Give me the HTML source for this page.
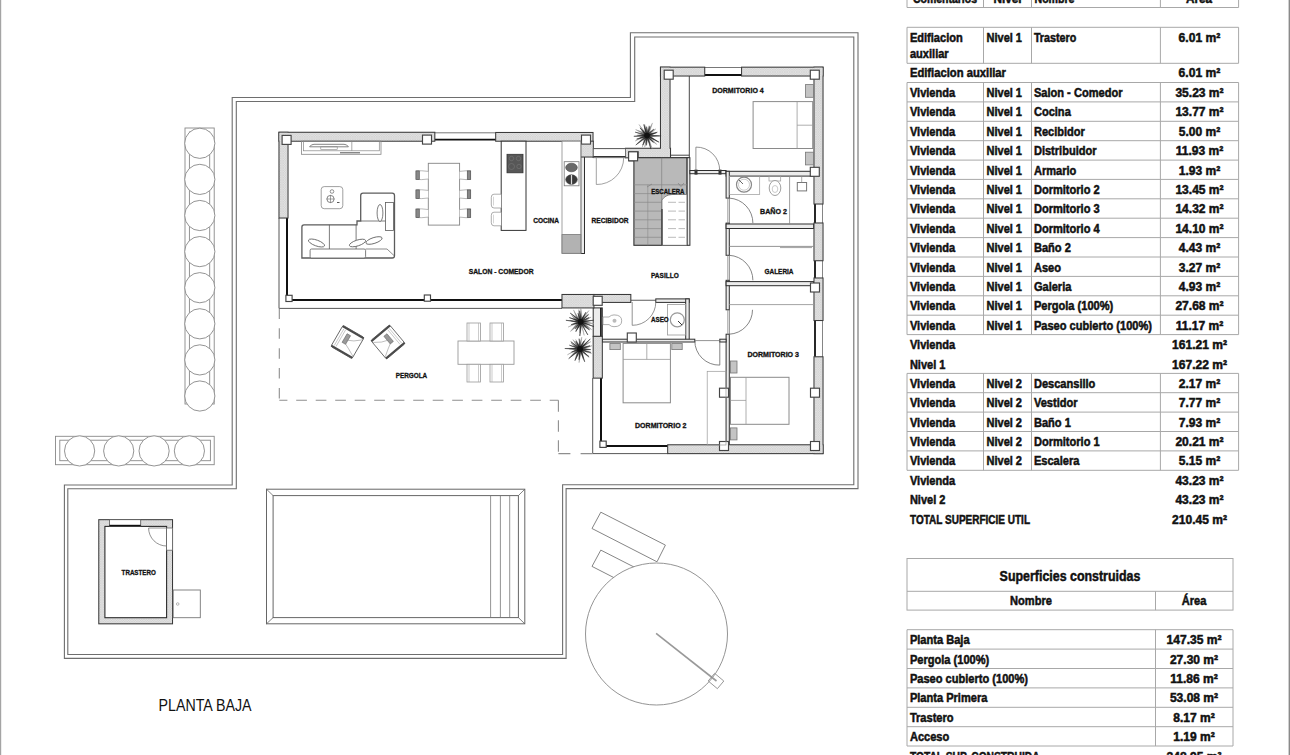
<!DOCTYPE html>
<html><head><meta charset="utf-8"><style>
html,body{margin:0;padding:0;background:#fff;width:1290px;height:755px;overflow:hidden}
svg{position:absolute;left:0;top:0;display:block}
text{font-family:"Liberation Sans",sans-serif}
</style></head><body>
<svg width="1290" height="755" viewBox="0 0 1290 755">
<defs><pattern id="hatch" width="2.4" height="2.4" patternUnits="userSpaceOnUse"><rect width="2.4" height="2.4" fill="#e2e2e2"/><path d="M0,0 L2.4,2.4 M2.4,0 L0,2.4" stroke="#cdcdcd" stroke-width="0.5"/></pattern></defs>
<path d="M232.2,97.5 H630.4 V32.7 H858 V488.6 H566.1 V658.4 H64.4 V485 H232.2 Z" fill="none" stroke="#6e6e6e" stroke-width="1.1"/>
<path d="M236.3,101.5 H634.7 V37 H853.8 V484.7 H562.6 V654.5 H67.8 V488.8 H236.3 Z" fill="none" stroke="#6e6e6e" stroke-width="1.1"/>
<rect x="185.0" y="128.0" width="29.2" height="276.0" fill="none" stroke="#888" stroke-width="0.9" />
<rect x="189.4" y="132.0" width="20.3" height="272.0" fill="none" stroke="#888" stroke-width="0.9" />
<circle cx="199.8" cy="143.3" r="15.1" fill="#fff" stroke="#888" stroke-width="0.9"/>
<circle cx="199.8" cy="179.4" r="15.1" fill="#fff" stroke="#888" stroke-width="0.9"/>
<circle cx="199.8" cy="215.5" r="15.1" fill="#fff" stroke="#888" stroke-width="0.9"/>
<circle cx="199.8" cy="251.6" r="15.1" fill="#fff" stroke="#888" stroke-width="0.9"/>
<circle cx="199.8" cy="287.7" r="15.1" fill="#fff" stroke="#888" stroke-width="0.9"/>
<circle cx="199.8" cy="323.8" r="15.1" fill="#fff" stroke="#888" stroke-width="0.9"/>
<circle cx="199.8" cy="359.9" r="15.1" fill="#fff" stroke="#888" stroke-width="0.9"/>
<circle cx="199.8" cy="396.0" r="15.1" fill="#fff" stroke="#888" stroke-width="0.9"/>
<rect x="55.5" y="436.3" width="158.7" height="28.4" fill="none" stroke="#888" stroke-width="0.9" />
<rect x="59.8" y="440.2" width="150.6" height="20.5" fill="none" stroke="#888" stroke-width="0.9" />
<circle cx="79.6" cy="450.9" r="15.1" fill="#fff" stroke="#888" stroke-width="0.9"/>
<circle cx="118.7" cy="450.9" r="15.1" fill="#fff" stroke="#888" stroke-width="0.9"/>
<circle cx="154.1" cy="450.9" r="15.1" fill="#fff" stroke="#888" stroke-width="0.9"/>
<circle cx="189.4" cy="450.9" r="15.1" fill="#fff" stroke="#888" stroke-width="0.9"/>
<line x1="434.8" y1="132.8" x2="495.7" y2="132.8" stroke="#555" stroke-width="0.8"/>
<line x1="434.8" y1="139.6" x2="495.7" y2="139.6" stroke="#111" stroke-width="1.8"/>
<line x1="279.0" y1="218.0" x2="279.0" y2="308.4" stroke="#444" stroke-width="0.9"/>
<line x1="287.0" y1="218.0" x2="287.0" y2="300.0" stroke="#111" stroke-width="2"/>
<line x1="287.0" y1="300.0" x2="562.0" y2="300.0" stroke="#111" stroke-width="2"/>
<line x1="279.0" y1="308.4" x2="562.0" y2="308.4" stroke="#444" stroke-width="0.9"/>
<rect x="580.8" y="150.0" width="3.7" height="103.5" fill="#ececec" stroke="#2e2e2e" stroke-width="1"/>
<line x1="670.0" y1="155.2" x2="689.3" y2="155.2" stroke="#333" stroke-width="0.9"/>
<line x1="670.0" y1="157.8" x2="689.9" y2="157.8" stroke="#333" stroke-width="1"/>
<line x1="704.7" y1="67.5" x2="741.6" y2="67.5" stroke="#555" stroke-width="0.8"/>
<line x1="704.7" y1="75.0" x2="741.6" y2="75.0" stroke="#111" stroke-width="1.8"/>
<line x1="815.0" y1="204.0" x2="815.0" y2="223.0" stroke="#111" stroke-width="1.8"/>
<line x1="822.5" y1="204.0" x2="822.5" y2="223.0" stroke="#666" stroke-width="0.8"/>
<line x1="815.0" y1="260.7" x2="815.0" y2="278.0" stroke="#111" stroke-width="1.8"/>
<line x1="822.5" y1="260.7" x2="822.5" y2="278.0" stroke="#666" stroke-width="0.8"/>
<line x1="815.0" y1="320.5" x2="815.0" y2="356.8" stroke="#111" stroke-width="1.8"/>
<line x1="822.5" y1="320.5" x2="822.5" y2="356.8" stroke="#666" stroke-width="0.8"/>
<line x1="689.3" y1="76.0" x2="689.3" y2="171.0" stroke="#333" stroke-width="0.9"/>
<rect x="686.9" y="157.7" width="3.0" height="87.6" fill="#ececec" stroke="#2e2e2e" stroke-width="1"/>
<rect x="689.9" y="170.5" width="36.2" height="3.2" fill="#ececec" stroke="#2e2e2e" stroke-width="1"/>
<rect x="694.5" y="169.6" width="3" height="5" fill="#333"/><rect x="718.5" y="169.6" width="3" height="5" fill="#333"/>
<rect x="726.1" y="171.3" width="87.6" height="4.8" fill="#ececec" stroke="#2e2e2e" stroke-width="1"/>
<rect x="726.1" y="171.3" width="3.2" height="26.8" fill="#ececec" stroke="#2e2e2e" stroke-width="1"/>
<rect x="726.1" y="223.1" width="3.2" height="32.2" fill="#ececec" stroke="#2e2e2e" stroke-width="1"/>
<rect x="726.1" y="280.3" width="3.2" height="29.5" fill="#ececec" stroke="#2e2e2e" stroke-width="1"/>
<rect x="726.1" y="334.2" width="3.2" height="110.8" fill="#ececec" stroke="#2e2e2e" stroke-width="1"/>
<line x1="727.7" y1="198.1" x2="727.7" y2="223.1" stroke="#888" stroke-width="0.7"/>
<line x1="727.7" y1="255.3" x2="727.7" y2="280.3" stroke="#888" stroke-width="0.7"/>
<line x1="727.7" y1="309.8" x2="727.7" y2="334.2" stroke="#888" stroke-width="0.7"/>
<rect x="726.1" y="224.0" width="87.6" height="4.5" fill="#ececec" stroke="#2e2e2e" stroke-width="1"/>
<rect x="726.1" y="281.6" width="87.6" height="4.1" fill="#ececec" stroke="#2e2e2e" stroke-width="1"/>
<line x1="601.0" y1="446.0" x2="667.7" y2="446.0" stroke="#111" stroke-width="2"/>
<line x1="592.7" y1="453.6" x2="667.7" y2="453.6" stroke="#444" stroke-width="0.9"/>
<rect x="593.2" y="307.9" width="9.1" height="28.5" fill="#ececec" stroke="#2e2e2e" stroke-width="1"/>
<line x1="600.9" y1="307.9" x2="600.9" y2="336.4" stroke="#111" stroke-width="1.6"/>
<line x1="601.0" y1="378.1" x2="601.0" y2="446.0" stroke="#111" stroke-width="2"/>
<line x1="592.7" y1="378.1" x2="592.7" y2="453.6" stroke="#444" stroke-width="0.9"/>
<line x1="630.8" y1="300.3" x2="655.8" y2="300.3" stroke="#777" stroke-width="1.2"/>
<rect x="655.8" y="298.9" width="33.4" height="3.5" fill="#ececec" stroke="#2e2e2e" stroke-width="1"/>
<rect x="685.7" y="298.9" width="3.5" height="42.4" fill="#ececec" stroke="#2e2e2e" stroke-width="1"/>
<rect x="602.3" y="339.2" width="92.5" height="2.8" fill="#ececec" stroke="#2e2e2e" stroke-width="1"/>
<rect x="719.8" y="339.2" width="6.3" height="2.8" fill="#ececec" stroke="#2e2e2e" stroke-width="1"/>
<line x1="694.8" y1="340.6" x2="719.8" y2="340.6" stroke="#777" stroke-width="0.8"/>
<g fill="#dcdcdc" stroke="#3a3a3a" stroke-width="2.1"><rect x="279.5" y="132.8" width="154.8" height="7.9"/><rect x="496.2" y="133.0" width="96.3" height="7.7"/><rect x="279.5" y="132.8" width="8.0" height="84.7"/><rect x="581.3" y="141.7" width="11.5" height="14.8"/><rect x="593.5" y="149.2" width="40.0" height="7.3"/><rect x="626.0" y="148.8" width="44.0" height="8.5"/><rect x="661.0" y="67.7" width="8.5" height="89.6"/><rect x="661.0" y="67.7" width="43.2" height="7.8"/><rect x="742.1" y="67.7" width="80.4" height="7.8"/><rect x="814.5" y="67.7" width="8.0" height="135.8"/><rect x="814.5" y="223.5" width="8.0" height="36.7"/><rect x="814.5" y="278.5" width="8.0" height="41.5"/><rect x="814.5" y="357.3" width="8.0" height="95.8"/><rect x="668.2" y="445.3" width="154.3" height="7.8"/><rect x="593.7" y="336.9" width="8.1" height="40.7"/><rect x="562.5" y="295.0" width="30.9" height="12.4"/><rect x="594.4" y="295.0" width="35.9" height="6.9"/></g><g fill="url(#hatch)" stroke="none"><rect x="279.5" y="132.8" width="154.8" height="7.9"/><rect x="496.2" y="133.0" width="96.3" height="7.7"/><rect x="279.5" y="132.8" width="8.0" height="84.7"/><rect x="581.3" y="141.7" width="11.5" height="14.8"/><rect x="593.5" y="149.2" width="40.0" height="7.3"/><rect x="626.0" y="148.8" width="44.0" height="8.5"/><rect x="661.0" y="67.7" width="8.5" height="89.6"/><rect x="661.0" y="67.7" width="43.2" height="7.8"/><rect x="742.1" y="67.7" width="80.4" height="7.8"/><rect x="814.5" y="67.7" width="8.0" height="135.8"/><rect x="814.5" y="223.5" width="8.0" height="36.7"/><rect x="814.5" y="278.5" width="8.0" height="41.5"/><rect x="814.5" y="357.3" width="8.0" height="95.8"/><rect x="668.2" y="445.3" width="154.3" height="7.8"/><rect x="593.7" y="336.9" width="8.1" height="40.7"/><rect x="562.5" y="295.0" width="30.9" height="12.4"/><rect x="594.4" y="295.0" width="35.9" height="6.9"/></g>
<rect x="285.9" y="295.3" width="6.2" height="6.2" fill="#fff" stroke="#444" stroke-width="1.15"/>
<rect x="424.3" y="295.0" width="6.2" height="6.2" fill="#fff" stroke="#444" stroke-width="1.15"/>
<rect x="599.9" y="441.1" width="6.3" height="6.3" fill="#fff" stroke="#444" stroke-width="1.15"/>
<rect x="282.1" y="135.4" width="9" height="9" fill="#fff" stroke="#444" stroke-width="1.15"/>
<rect x="422.5" y="135.1" width="9" height="9" fill="#fff" stroke="#444" stroke-width="1.15"/>
<rect x="581.5" y="135.1" width="9" height="9" fill="#fff" stroke="#444" stroke-width="1.15"/>
<rect x="629.2" y="151.8" width="9" height="9" fill="#fff" stroke="#444" stroke-width="1.15"/>
<rect x="664.2" y="70.2" width="9" height="9" fill="#fff" stroke="#444" stroke-width="1.15"/>
<rect x="810.3" y="70.2" width="9" height="9" fill="#fff" stroke="#444" stroke-width="1.15"/>
<rect x="810.3" y="167.3" width="9" height="9" fill="#fff" stroke="#444" stroke-width="1.15"/>
<rect x="810.5" y="283.0" width="9" height="9" fill="#fff" stroke="#444" stroke-width="1.15"/>
<rect x="719.5" y="388.2" width="9" height="9" fill="#fff" stroke="#444" stroke-width="1.15"/>
<rect x="810.5" y="388.2" width="9" height="9" fill="#fff" stroke="#444" stroke-width="1.15"/>
<rect x="719.5" y="441.5" width="9" height="9" fill="#fff" stroke="#444" stroke-width="1.15"/>
<rect x="810.5" y="441.5" width="9" height="9" fill="#fff" stroke="#444" stroke-width="1.15"/>
<rect x="593.2" y="296.3" width="9" height="9" fill="#fff" stroke="#444" stroke-width="1.15"/>
<rect x="627.3" y="333.0" width="9" height="9" fill="#fff" stroke="#444" stroke-width="1.15"/>
<path d="M279.3,308.4 V400.3" fill="none" stroke="#8e8e8e" stroke-width="1.1" stroke-dasharray="10.5 9.4"/>
<path d="M279.3,400.3 H558.4" fill="none" stroke="#8e8e8e" stroke-width="1.1" stroke-dasharray="10.7 8.8" stroke-dashoffset="2.6"/>
<path d="M558.4,400.3 V453.6" fill="none" stroke="#8e8e8e" stroke-width="1.1" stroke-dasharray="11.5 8.5"/>
<path d="M558.4,453.6 H593" fill="none" stroke="#8e8e8e" stroke-width="1.1" stroke-dasharray="12 10.2"/>
<g fill="#dcdcdc" stroke="#3a3a3a" stroke-width="2.1"><rect x="99.3" y="520.2" width="72.7" height="103.1"/></g><g fill="url(#hatch)" stroke="none"><rect x="99.3" y="520.2" width="72.7" height="103.1"/></g>
<rect x="104.9" y="526.4" width="61.7" height="91.3" fill="#fff" stroke="#2b2b2b" stroke-width="1.1"/>
<rect x="173.2" y="590.0" width="27.1" height="27.7" fill="#fff" stroke="#777" stroke-width="0.9" />
<rect x="266.5" y="489.2" width="258.3" height="134.6" fill="none" stroke="#666" stroke-width="1" />
<rect x="273.1" y="495.6" width="245.3" height="122.0" fill="none" stroke="#666" stroke-width="1" />
<line x1="266.5" y1="489.2" x2="273.1" y2="495.6" stroke="#666" stroke-width="0.8"/>
<line x1="524.8" y1="489.2" x2="518.4" y2="495.6" stroke="#666" stroke-width="0.8"/>
<line x1="266.5" y1="623.8" x2="273.1" y2="617.6" stroke="#666" stroke-width="0.8"/>
<line x1="524.8" y1="623.8" x2="518.4" y2="617.6" stroke="#666" stroke-width="0.8"/>
<line x1="490.6" y1="495.6" x2="490.6" y2="617.6" stroke="#777" stroke-width="0.8"/>
<line x1="500.4" y1="495.6" x2="500.4" y2="617.6" stroke="#777" stroke-width="0.8"/>
<line x1="509.7" y1="495.6" x2="509.7" y2="617.6" stroke="#777" stroke-width="0.8"/>
<polygon points="600.8,512.2 665.4,545.1 657,561.8 592,528.5" fill="#fff" stroke="#777" stroke-width="0.9"/>
<polygon points="600.8,550.1 665.4,583 657,599.7 592,566.4" fill="#fff" stroke="#777" stroke-width="0.9"/>
<circle cx="656.5" cy="634" r="71" fill="#fff" stroke="#888" stroke-width="0.9"/>
<line x1="656.1" y1="633.4" x2="716.5" y2="681.0" stroke="#999" stroke-width="1.6"/>
<rect x="710" y="676" width="12" height="10" fill="none" stroke="#888" stroke-width="0.8" transform="rotate(40 716 681)"/>
<rect x="301.5" y="141.2" width="79.5" height="13.1" fill="none" stroke="#858585" stroke-width="0.8" />
<rect x="303.6" y="141.2" width="75.7" height="9.6" fill="none" stroke="#858585" stroke-width="0.7" />
<line x1="351.8" y1="141.2" x2="351.8" y2="150.8" stroke="#858585" stroke-width="0.7"/>
<path d="M309.6,146.8 Q311,144.3 314,144.3 H344 Q347,144.3 348.4,146.8 Z" fill="#fff" stroke="#666" stroke-width="0.8"/>
<rect x="320.8" y="146.8" width="16.4" height="2.5" fill="none" stroke="#858585" stroke-width="0.6" />
<line x1="340.0" y1="152.8" x2="360.0" y2="152.8" stroke="#555" stroke-width="1"/>
<rect x="321.2" y="186.6" width="21.6" height="22.1" rx="3" fill="#fff" stroke="#888" stroke-width="0.8"/>
<circle cx="330.5" cy="199" r="3.6" fill="none" stroke="#666" stroke-width="0.8"/>
<circle cx="332" cy="191.5" r="1.8" fill="none" stroke="#666" stroke-width="0.7"/>
<line x1="330.5" y1="195.0" x2="330.5" y2="203.0" stroke="#666" stroke-width="0.6"/>
<line x1="326.5" y1="199.0" x2="334.5" y2="199.0" stroke="#666" stroke-width="0.6"/>
<line x1="337.0" y1="202.5" x2="339.5" y2="202.5" stroke="#444" stroke-width="0.9"/>
<path d="M301.9,258 V227 Q301.9,224.8 304,224.8 H357 V221 H360.7 V195.5 Q360.7,193.2 363,193.2 H392.2 Q394.5,193.2 394.5,195.5 V255.7 Q394.5,258 392.2,258 Z" fill="#fff" stroke="#5c5c5c" stroke-width="1.3"/>
<line x1="360.7" y1="221.0" x2="385.4" y2="221.0" stroke="#5c5c5c" stroke-width="0.8"/>
<line x1="329.4" y1="224.8" x2="329.4" y2="249.0" stroke="#5c5c5c" stroke-width="0.8"/>
<line x1="356.1" y1="224.8" x2="356.1" y2="249.0" stroke="#5c5c5c" stroke-width="0.8"/>
<rect x="385.4" y="202.5" width="8.1" height="28.0" fill="none" stroke="#5c5c5c" stroke-width="0.8" />
<rect x="310.1" y="249" width="55.5" height="9" rx="1.5" fill="#fff" stroke="#5c5c5c" stroke-width="0.8"/>
<line x1="365.6" y1="249.0" x2="387.0" y2="249.0" stroke="#5c5c5c" stroke-width="0.7"/>
<line x1="387.0" y1="249.0" x2="394.5" y2="256.0" stroke="#5c5c5c" stroke-width="0.7"/>
<ellipse cx="316.5" cy="243" rx="8.5" ry="2.9" transform="rotate(20 316.5 243)" fill="#fff" stroke="#5c5c5c" stroke-width="0.8"/>
<ellipse cx="357.5" cy="243" rx="8.5" ry="2.9" transform="rotate(-18 357.5 243)" fill="#fff" stroke="#5c5c5c" stroke-width="0.8"/>
<ellipse cx="374" cy="240.5" rx="8.5" ry="2.9" transform="rotate(-18 374 240.5)" fill="#fff" stroke="#5c5c5c" stroke-width="0.8"/>
<ellipse cx="380" cy="213" rx="2.9" ry="8.5" transform="rotate(0 380 213)" fill="#fff" stroke="#5c5c5c" stroke-width="0.8"/>
<rect x="428.3" y="163.3" width="31.3" height="61.8" fill="#fff" stroke="#858585" stroke-width="0.9" />
<path d="M428.3,171.4 Q421,170.4 416.5,170.9 V179.4 Q421,180.0 428.3,179.0" fill="#fff" stroke="#999" stroke-width="0.7"/>
<rect x="415.9" y="170.9" width="3.4" height="8.5" fill="#888" stroke="#555" stroke-width="0.7" />
<path d="M459.6,171.4 Q467,170.4 470.4,170.9 V179.4 Q467,180.0 459.6,179.0" fill="#fff" stroke="#999" stroke-width="0.7"/>
<rect x="467.3" y="170.9" width="3.4" height="8.5" fill="#888" stroke="#555" stroke-width="0.7" />
<path d="M428.3,190.4 Q421,189.4 416.5,189.9 V198.4 Q421,199.0 428.3,198.0" fill="#fff" stroke="#999" stroke-width="0.7"/>
<rect x="415.9" y="189.9" width="3.4" height="8.5" fill="#888" stroke="#555" stroke-width="0.7" />
<path d="M459.6,190.4 Q467,189.4 470.4,189.9 V198.4 Q467,199.0 459.6,198.0" fill="#fff" stroke="#999" stroke-width="0.7"/>
<rect x="467.3" y="189.9" width="3.4" height="8.5" fill="#888" stroke="#555" stroke-width="0.7" />
<path d="M428.3,209.5 Q421,208.5 416.5,209.0 V217.5 Q421,218.1 428.3,217.1" fill="#fff" stroke="#999" stroke-width="0.7"/>
<rect x="415.9" y="209.0" width="3.4" height="8.5" fill="#888" stroke="#555" stroke-width="0.7" />
<path d="M459.6,209.5 Q467,208.5 470.4,209.0 V217.5 Q467,218.1 459.6,217.1" fill="#fff" stroke="#999" stroke-width="0.7"/>
<rect x="467.3" y="209.0" width="3.4" height="8.5" fill="#888" stroke="#555" stroke-width="0.7" />
<rect x="501.2" y="141.2" width="24.8" height="89.2" fill="#fff" stroke="#333" stroke-width="1" />
<rect x="507.0" y="154.3" width="16.0" height="18.5" fill="#575757" stroke="#333" stroke-width="0.8" />
<circle cx="511.5" cy="158.5" r="2.2" fill="none" stroke="#777" stroke-width="0.6"/>
<circle cx="518.5" cy="158.5" r="2.2" fill="none" stroke="#777" stroke-width="0.6"/>
<circle cx="511.5" cy="166.5" r="3" fill="none" stroke="#777" stroke-width="0.6"/>
<circle cx="519" cy="166.5" r="2.2" fill="none" stroke="#777" stroke-width="0.6"/>
<path d="M501.2,194.2 H494 Q491.3,194.2 491.3,197.2 V205.0 Q491.3,208.0 494,208.0 H501.2" fill="#fff" stroke="#999" stroke-width="0.8"/>
<line x1="493.5" y1="196.7" x2="493.5" y2="205.5" stroke="#bbb" stroke-width="0.6"/>
<path d="M501.2,212.2 H494 Q491.3,212.2 491.3,215.2 V222.8 Q491.3,225.8 494,225.8 H501.2" fill="#fff" stroke="#999" stroke-width="0.8"/>
<line x1="493.5" y1="214.7" x2="493.5" y2="223.3" stroke="#bbb" stroke-width="0.6"/>
<rect x="562.0" y="141.2" width="18.8" height="112.1" fill="#fff" stroke="#8a8a8a" stroke-width="0.8" />
<rect x="564.2" y="161.7" width="14.8" height="24.1" fill="none" stroke="#777" stroke-width="0.8" />
<ellipse cx="571.5" cy="167.5" rx="5.8" ry="4.3" fill="#6a6a6a" stroke="#444" stroke-width="0.6"/>
<ellipse cx="571.5" cy="179.6" rx="5.8" ry="4.8" fill="#3a3a3a" stroke="#444" stroke-width="0.6"/>
<line x1="571.5" y1="175.0" x2="571.5" y2="184.4" stroke="#ddd" stroke-width="1.2"/>
<rect x="562.0" y="234.6" width="18.8" height="18.7" fill="#b2b2b2" stroke="#777" stroke-width="0.8" />
<rect x="593.3" y="148.7" width="32.2" height="9.0" fill="#fff" stroke="#555" stroke-width="0.8" />
<line x1="593.3" y1="156.5" x2="625.5" y2="156.5" stroke="#333" stroke-width="1.2"/>
<path d="M596.3,157.7 L596.3,184.5 A26.8,26.8 0 0 0 623.7,157.7" fill="none" stroke="#8a8a8a" stroke-width="0.8"/>
<rect x="633.9" y="157.7" width="53.0" height="87.6" fill="#b9b9b9" stroke="#333" stroke-width="1.1" />
<line x1="661.7" y1="157.7" x2="661.7" y2="245.3" stroke="#777" stroke-width="0.6"/>
<line x1="633.9" y1="184.8" x2="686.9" y2="184.8" stroke="#8a8a8a" stroke-width="0.7"/>
<line x1="633.9" y1="193.6" x2="661.7" y2="193.6" stroke="#8a8a8a" stroke-width="0.7"/>
<line x1="633.9" y1="202.3" x2="661.7" y2="202.3" stroke="#8a8a8a" stroke-width="0.7"/>
<line x1="633.9" y1="211.1" x2="661.7" y2="211.1" stroke="#8a8a8a" stroke-width="0.7"/>
<line x1="633.9" y1="219.8" x2="661.7" y2="219.8" stroke="#8a8a8a" stroke-width="0.7"/>
<line x1="633.9" y1="228.6" x2="661.7" y2="228.6" stroke="#8a8a8a" stroke-width="0.7"/>
<line x1="633.9" y1="237.3" x2="661.7" y2="237.3" stroke="#8a8a8a" stroke-width="0.7"/>
<line x1="647.8" y1="184.8" x2="647.8" y2="245.3" stroke="#8a8a8a" stroke-width="0.6"/>
<path d="M662,245.3 V200 Q665,195 672,194.5 H686.9 V245.3 Z" fill="#fff" stroke="#666" stroke-width="0.7"/>
<line x1="668.0" y1="202.3" x2="676.0" y2="202.3" stroke="#aaa" stroke-width="0.8"/>
<line x1="678.5" y1="202.3" x2="685.0" y2="202.3" stroke="#aaa" stroke-width="0.8"/>
<line x1="668.0" y1="211.1" x2="676.0" y2="211.1" stroke="#aaa" stroke-width="0.8"/>
<line x1="678.5" y1="211.1" x2="685.0" y2="211.1" stroke="#aaa" stroke-width="0.8"/>
<line x1="668.0" y1="219.8" x2="676.0" y2="219.8" stroke="#aaa" stroke-width="0.8"/>
<line x1="678.5" y1="219.8" x2="685.0" y2="219.8" stroke="#aaa" stroke-width="0.8"/>
<line x1="668.0" y1="228.6" x2="676.0" y2="228.6" stroke="#aaa" stroke-width="0.8"/>
<line x1="678.5" y1="228.6" x2="685.0" y2="228.6" stroke="#aaa" stroke-width="0.8"/>
<line x1="668.0" y1="237.3" x2="676.0" y2="237.3" stroke="#aaa" stroke-width="0.8"/>
<line x1="678.5" y1="237.3" x2="685.0" y2="237.3" stroke="#aaa" stroke-width="0.8"/>
<line x1="662.0" y1="209.0" x2="662.0" y2="245.0" stroke="#333" stroke-width="1.2"/>
<path d="M647,187 L652,184 M678,183 L681,186.5 L684,183" fill="none" stroke="#777" stroke-width="0.6"/>
<rect x="753.1" y="101.6" width="59.6" height="46.9" fill="#fff" stroke="#8a8a8a" stroke-width="1" />
<line x1="797.1" y1="101.6" x2="797.1" y2="148.5" stroke="#999" stroke-width="0.8"/>
<line x1="797.1" y1="125.2" x2="812.7" y2="125.2" stroke="#999" stroke-width="0.8"/>
<rect x="805.5" y="84.6" width="8.0" height="12.7" fill="#c4c4c4" stroke="#777" stroke-width="0.8" />
<rect x="805.5" y="152.2" width="8.0" height="12.7" fill="#c4c4c4" stroke="#777" stroke-width="0.8" />
<path d="M695.9,170.4 L695.9,147.1 A23.3,23.3 0 0 1 719.7,170.4" fill="none" stroke="#777" stroke-width="0.8"/>
<rect x="729.3" y="176.1" width="30.4" height="18.4" fill="none" stroke="#999" stroke-width="0.7" />
<circle cx="744" cy="184.7" r="7.5" fill="none" stroke="#888" stroke-width="1.2"/>
<circle cx="744" cy="184.7" r="5.5" fill="none" stroke="#aaa" stroke-width="0.6"/>
<line x1="739.0" y1="180.0" x2="743.0" y2="184.0" stroke="#555" stroke-width="0.9"/>
<rect x="769.0" y="176.1" width="11.7" height="4.9" fill="none" stroke="#999" stroke-width="0.7" />
<ellipse cx="775" cy="188" rx="5.8" ry="7.5" fill="#fff" stroke="#888" stroke-width="0.8"/>
<ellipse cx="775" cy="189" rx="2.8" ry="3.5" fill="none" stroke="#aaa" stroke-width="0.6"/>
<line x1="789.6" y1="176.1" x2="789.6" y2="224.5" stroke="#888" stroke-width="0.8"/>
<rect x="797.3" y="182.5" width="9.3" height="8.4" fill="none" stroke="#777" stroke-width="1" />
<line x1="801.7" y1="176.1" x2="801.7" y2="182.5" stroke="#888" stroke-width="0.7"/>
<path d="M729.3,223.1 L729.3,198.1 A25.0,25.0 0 0 1 752.9,223.1" fill="none" stroke="#666" stroke-width="0.8"/>
<line x1="729.3" y1="246.4" x2="813.7" y2="246.4" stroke="#888" stroke-width="0.9"/>
<line x1="780.0" y1="247.5" x2="812.0" y2="247.5" stroke="#aaa" stroke-width="1.2"/>
<path d="M729.3,280.3 L729.3,255.3 A25.0,25.0 0 0 1 752.9,280.3" fill="none" stroke="#666" stroke-width="0.8"/>
<line x1="729.3" y1="304.6" x2="814.0" y2="304.6" stroke="#999" stroke-width="0.9"/>
<path d="M729.3,309.8 L729.3,334.2 A24.4,24.4 0 0 0 752.5,309.8" fill="none" stroke="#666" stroke-width="0.8"/>
<rect x="730.5" y="377.3" width="58.5" height="47.0" fill="#fff" stroke="#8a8a8a" stroke-width="1" />
<line x1="746.0" y1="377.3" x2="746.0" y2="424.3" stroke="#999" stroke-width="0.8"/>
<line x1="730.5" y1="400.4" x2="746.0" y2="400.4" stroke="#999" stroke-width="0.8"/>
<rect x="730.5" y="361.0" width="6.5" height="12.0" fill="#c4c4c4" stroke="#777" stroke-width="0.8" />
<rect x="730.5" y="427.9" width="6.5" height="12.0" fill="#c4c4c4" stroke="#777" stroke-width="0.8" />
<rect x="623.1" y="343.4" width="47.3" height="59.4" fill="#fff" stroke="#8a8a8a" stroke-width="1" />
<line x1="623.1" y1="359.4" x2="670.4" y2="359.4" stroke="#999" stroke-width="0.8"/>
<line x1="646.8" y1="343.4" x2="646.8" y2="359.4" stroke="#999" stroke-width="0.8"/>
<rect x="609.9" y="343.4" width="10.4" height="6.2" fill="#c4c4c4" stroke="#777" stroke-width="0.8" />
<rect x="671.8" y="343.4" width="10.4" height="6.2" fill="#c4c4c4" stroke="#777" stroke-width="0.8" />
<rect x="707.2" y="371.3" width="18.8" height="73.7" fill="none" stroke="#999" stroke-width="0.7" />
<path d="M719.8,340.8 L719.8,365.1 A24.3,24.3 0 0 1 694.8,340.8" fill="none" stroke="#666" stroke-width="0.8"/>
<path d="M603,317 H609 Q611,314.9 614,314.9 Q621.7,314.9 621.7,320.8 Q621.7,326.7 614,326.7 Q611,326.7 609,324.6 H603 Z" fill="#fff" stroke="#999" stroke-width="0.8"/>
<circle cx="614.5" cy="320.8" r="2" fill="#bbb"/>
<path d="M632.2,302.0 L632.2,325.3 A23.3,23.3 0 0 0 655.8,302.0" fill="none" stroke="#777" stroke-width="0.8"/>
<rect x="667.6" y="304.5" width="18.1" height="30.5" fill="none" stroke="#999" stroke-width="0.8" />
<circle cx="677.3" cy="319.8" r="7" fill="none" stroke="#999" stroke-width="1.2"/>
<line x1="678.0" y1="321.0" x2="682.0" y2="325.0" stroke="#333" stroke-width="1"/>
<path d="M166.6,528.0 L148.6,528.0 A18.0,18.0 0 0 0 166.6,546.0" fill="none" stroke="#777" stroke-width="0.8"/>
<rect x="166.6" y="528.0" width="5.9" height="22.2" fill="#fff" stroke="#666" stroke-width="0.8" />
<rect x="109.4" y="519.7" width="31.3" height="6.7" fill="#fff" stroke="#555" stroke-width="0.8" />
<line x1="109.4" y1="525.6" x2="140.7" y2="525.6" stroke="#111" stroke-width="1.6"/>
<circle cx="177.7" cy="604" r="1.3" fill="none" stroke="#888" stroke-width="0.6"/>
<g transform="translate(347.5 342) rotate(30) scale(1,1)"><rect x="-12.2" y="-12.2" width="24.4" height="24.4" rx="1.5" fill="#fff" stroke="#555" stroke-width="0.8"/><rect x="-12.2" y="-12.2" width="24.4" height="2" fill="#4a4a4a"/><rect x="-12.2" y="10.2" width="24.4" height="2" fill="#4a4a4a"/><line x1="-9.7" y1="-9.6" x2="-9.7" y2="9.6" stroke="#aaa" stroke-width="0.6"/><line x1="-7.699999999999999" y1="-9.6" x2="-7.699999999999999" y2="9.6" stroke="#aaa" stroke-width="0.6"/><rect x="-4.5" y="-7" width="4" height="10" fill="#9a9a9a" stroke="#555" stroke-width="0.5"/><path d="M-2,-1 Q5,-3 12.2,-9.6 M-2,2 Q4,5 11.7,9.6" fill="none" stroke="#888" stroke-width="0.5"/></g>
<g transform="translate(388 342) rotate(-40) scale(-1,1)"><rect x="-12.2" y="-12.2" width="24.4" height="24.4" rx="1.5" fill="#fff" stroke="#555" stroke-width="0.8"/><rect x="-12.2" y="-12.2" width="24.4" height="2" fill="#4a4a4a"/><rect x="-12.2" y="10.2" width="24.4" height="2" fill="#4a4a4a"/><line x1="-9.7" y1="-9.6" x2="-9.7" y2="9.6" stroke="#aaa" stroke-width="0.6"/><line x1="-7.699999999999999" y1="-9.6" x2="-7.699999999999999" y2="9.6" stroke="#aaa" stroke-width="0.6"/><rect x="-4.5" y="-7" width="4" height="10" fill="#9a9a9a" stroke="#555" stroke-width="0.5"/><path d="M-2,-1 Q5,-3 12.2,-9.6 M-2,2 Q4,5 11.7,9.6" fill="none" stroke="#888" stroke-width="0.5"/></g>
<rect x="458.0" y="341.0" width="56.0" height="23.3" fill="#fff" stroke="#999" stroke-width="0.9" />
<rect x="467.0" y="323.0" width="13.5" height="18.0" fill="#fff" stroke="#999" stroke-width="0.8" />
<line x1="469.0" y1="323.0" x2="469.0" y2="341.0" stroke="#aaa" stroke-width="0.6"/>
<line x1="478.5" y1="323.0" x2="478.5" y2="341.0" stroke="#aaa" stroke-width="0.6"/>
<rect x="467.0" y="364.3" width="13.5" height="17.7" fill="#fff" stroke="#999" stroke-width="0.8" />
<line x1="469.0" y1="364.3" x2="469.0" y2="382.0" stroke="#aaa" stroke-width="0.6"/>
<line x1="478.5" y1="364.3" x2="478.5" y2="382.0" stroke="#aaa" stroke-width="0.6"/>
<rect x="490.0" y="323.0" width="13.5" height="18.0" fill="#fff" stroke="#999" stroke-width="0.8" />
<line x1="492.0" y1="323.0" x2="492.0" y2="341.0" stroke="#aaa" stroke-width="0.6"/>
<line x1="501.5" y1="323.0" x2="501.5" y2="341.0" stroke="#aaa" stroke-width="0.6"/>
<rect x="490.0" y="364.3" width="13.5" height="17.7" fill="#fff" stroke="#999" stroke-width="0.8" />
<line x1="492.0" y1="364.3" x2="492.0" y2="382.0" stroke="#aaa" stroke-width="0.6"/>
<line x1="501.5" y1="364.3" x2="501.5" y2="382.0" stroke="#aaa" stroke-width="0.6"/>
<rect x="628.6" y="151.8" width="9" height="9" fill="#fff" stroke="#444" stroke-width="1.15"/>
<polygon points="659.1,135.8 651.1,136.7 657.8,141.8 650.6,137.8 656.9,144.6 649.2,139.2 652.1,148.6 647.4,139.8 644.7,147.2 645.6,139.6 642.3,147.1 644.0,138.5 637.0,143.7 643.2,137.4 635.2,141.0 642.8,135.9 637.1,135.2 643.1,133.9 635.6,129.6 644.1,132.6 639.0,124.5 644.9,132.0 644.6,124.2 647.1,131.4 649.1,125.6 647.8,131.5 652.5,122.9 649.6,132.3 655.8,128.9 650.7,133.6 657.7,132.0 651.2,135.3" fill="#7a7a7a" stroke="#999" stroke-width="0.4"/>
<polygon points="661.1,135.9 649.4,136.2 659.1,142.2 648.9,137.2 653.4,142.5 648.2,137.8 650.9,149.1 647.5,138.1 646.5,145.3 646.3,138.0 642.9,144.9 645.8,137.8 635.8,145.0 645.1,137.2 636.6,139.1 644.6,136.3 633.8,136.3 644.6,134.9 635.2,132.2 644.8,134.4 640.0,127.8 645.8,133.4 643.8,124.5 646.8,133.1 646.6,126.7 647.6,133.1 649.7,126.3 648.4,133.5 653.8,129.1 648.9,134.0 656.9,132.5 649.5,135.4" fill="#1a1a1a" stroke="#333" stroke-width="0.5"/>
<circle cx="647" cy="135.6" r="2.8" fill="#111"/>
<polygon points="594.0,323.6 584.7,323.4 591.6,329.6 583.7,325.0 589.7,330.0 582.2,325.9 584.2,335.4 581.6,326.1 579.7,333.0 579.4,325.9 575.7,330.7 578.2,325.4 570.4,331.5 576.7,323.5 568.1,327.1 576.4,322.7 570.1,320.4 576.4,321.2 571.6,315.5 577.1,319.3 573.5,309.9 578.4,318.1 578.8,309.5 580.5,317.5 580.8,307.6 582.2,317.7 589.0,310.5 583.3,318.3 588.8,314.6 584.3,319.4 591.1,317.1 585.0,321.5" fill="#7a7a7a" stroke="#999" stroke-width="0.4"/>
<polygon points="593.7,320.2 583.3,322.2 593.9,326.6 582.9,323.2 589.4,329.8 582.0,324.0 587.9,335.0 581.5,324.3 579.8,336.0 580.5,324.4 575.8,331.7 579.2,323.9 575.1,328.9 578.6,323.4 571.1,324.6 578.1,322.2 565.9,320.3 578.1,321.4 569.3,317.6 578.6,320.2 570.2,313.1 579.4,319.5 578.0,313.3 580.5,319.2 579.6,310.9 581.3,319.3 585.9,312.2 582.4,319.8 588.4,314.3 582.8,320.3 588.9,317.6 583.2,321.1" fill="#1a1a1a" stroke="#333" stroke-width="0.5"/>
<circle cx="580.7" cy="321.8" r="2.9" fill="#111"/>
<polygon points="590.8,349.5 584.1,350.4 591.7,353.4 583.5,351.6 589.0,357.4 582.6,352.5 583.2,358.9 581.0,353.2 579.0,362.7 579.2,353.3 574.9,360.8 576.8,352.0 570.6,356.3 575.9,350.5 567.4,354.8 575.7,349.7 569.3,349.1 575.8,348.0 570.9,343.0 576.7,346.2 572.9,339.6 578.0,345.1 575.7,339.5 579.2,344.7 581.8,337.1 581.0,344.8 586.0,338.5 582.6,345.5 590.9,341.6 583.7,346.7 592.0,345.7 584.3,349.1" fill="#7a7a7a" stroke="#999" stroke-width="0.4"/>
<polygon points="590.6,349.6 582.5,349.8 590.9,352.4 582.1,350.6 589.1,356.7 581.7,351.0 584.7,361.8 580.5,351.6 579.0,359.7 579.4,351.5 575.0,360.4 578.6,351.2 568.7,358.6 577.8,350.5 571.5,352.1 577.4,349.4 564.8,348.5 577.5,348.3 569.4,345.2 577.9,347.5 570.8,341.7 578.4,347.0 575.8,341.0 579.7,346.4 579.1,338.7 580.4,346.4 584.3,340.8 581.4,346.8 590.3,338.9 582.3,347.7 590.0,345.8 582.5,348.4" fill="#1a1a1a" stroke="#333" stroke-width="0.5"/>
<circle cx="580" cy="349" r="2.9" fill="#111"/>
<text x="712.2" y="93.1" font-size="7.7" text-anchor="start" textLength="51.6" lengthAdjust="spacingAndGlyphs" fill="#111" font-weight="bold" stroke="#111" stroke-width="0.32" >DORMITORIO 4</text>
<text x="651.3" y="193.9" font-size="7.7" text-anchor="start" textLength="33.1" lengthAdjust="spacingAndGlyphs" fill="#111" font-weight="bold" stroke="#111" stroke-width="0.32" >ESCALERA</text>
<text x="533.2" y="222.5" font-size="7.7" text-anchor="start" textLength="25.8" lengthAdjust="spacingAndGlyphs" fill="#111" font-weight="bold" stroke="#111" stroke-width="0.32" >COCINA</text>
<text x="591.6" y="222.5" font-size="7.7" text-anchor="start" textLength="36.9" lengthAdjust="spacingAndGlyphs" fill="#111" font-weight="bold" stroke="#111" stroke-width="0.32" >RECIBIDOR</text>
<text x="760.0" y="213.6" font-size="7.7" text-anchor="start" textLength="26.9" lengthAdjust="spacingAndGlyphs" fill="#111" font-weight="bold" stroke="#111" stroke-width="0.32" >BAÑO 2</text>
<text x="764.5" y="274.0" font-size="7.7" text-anchor="start" textLength="29.0" lengthAdjust="spacingAndGlyphs" fill="#111" font-weight="bold" stroke="#111" stroke-width="0.32" >GALERIA</text>
<text x="651.0" y="277.5" font-size="7.7" text-anchor="start" textLength="27.7" lengthAdjust="spacingAndGlyphs" fill="#111" font-weight="bold" stroke="#111" stroke-width="0.32" >PASILLO</text>
<text x="468.7" y="274.0" font-size="7.7" text-anchor="start" textLength="64.9" lengthAdjust="spacingAndGlyphs" fill="#111" font-weight="bold" stroke="#111" stroke-width="0.32" >SALON - COMEDOR</text>
<text x="651.0" y="321.5" font-size="7.7" text-anchor="start" textLength="17.7" lengthAdjust="spacingAndGlyphs" fill="#111" font-weight="bold" stroke="#111" stroke-width="0.32" >ASEO</text>
<text x="747.4" y="356.7" font-size="7.7" text-anchor="start" textLength="51.6" lengthAdjust="spacingAndGlyphs" fill="#111" font-weight="bold" stroke="#111" stroke-width="0.32" >DORMITORIO 3</text>
<text x="635.0" y="427.9" font-size="7.7" text-anchor="start" textLength="51.5" lengthAdjust="spacingAndGlyphs" fill="#111" font-weight="bold" stroke="#111" stroke-width="0.32" >DORMITORIO 2</text>
<text x="395.8" y="378.1" font-size="7.7" text-anchor="start" textLength="31.4" lengthAdjust="spacingAndGlyphs" fill="#111" font-weight="bold" stroke="#111" stroke-width="0.32" >PERGOLA</text>
<text x="121.6" y="575.4" font-size="7.7" text-anchor="start" textLength="34.2" lengthAdjust="spacingAndGlyphs" fill="#111" font-weight="bold" stroke="#111" stroke-width="0.32" >TRASTERO</text>
<text x="158.6" y="710.7" font-size="16.8" font-family="Liberation Sans" fill="#111" textLength="93" lengthAdjust="spacingAndGlyphs">PLANTA BAJA</text>
<line x1="907.0" y1="-2.0" x2="907.0" y2="7.5" stroke="#a8a8a8" stroke-width="1"/>
<line x1="983.5" y1="-2.0" x2="983.5" y2="7.5" stroke="#a8a8a8" stroke-width="1"/>
<line x1="1031.5" y1="-2.0" x2="1031.5" y2="7.5" stroke="#a8a8a8" stroke-width="1"/>
<line x1="1160.4" y1="-2.0" x2="1160.4" y2="7.5" stroke="#a8a8a8" stroke-width="1"/>
<line x1="1238.6" y1="-2.0" x2="1238.6" y2="7.5" stroke="#a8a8a8" stroke-width="1"/>
<line x1="907.0" y1="7.5" x2="1238.6" y2="7.5" stroke="#a8a8a8" stroke-width="1"/>
<text x="945.0" y="3.0" font-size="12.3" text-anchor="middle" textLength="64.0" lengthAdjust="spacingAndGlyphs" fill="#111" font-weight="bold" stroke="#111" stroke-width="0.50" >Comentarios</text>
<text x="1007.5" y="3.0" font-size="12.3" text-anchor="middle" textLength="28.0" lengthAdjust="spacingAndGlyphs" fill="#111" font-weight="bold" stroke="#111" stroke-width="0.50" >Nivel</text>
<text x="1034.5" y="3.0" font-size="12.3" text-anchor="start" textLength="40.0" lengthAdjust="spacingAndGlyphs" fill="#111" font-weight="bold" stroke="#111" stroke-width="0.50" >Nombre</text>
<text x="1199.0" y="3.0" font-size="12.3" text-anchor="middle" textLength="26.0" lengthAdjust="spacingAndGlyphs" fill="#111" font-weight="bold" stroke="#111" stroke-width="0.50" >Área</text>
<line x1="907.0" y1="27.3" x2="1238.6" y2="27.3" stroke="#a8a8a8" stroke-width="1"/>
<line x1="907.0" y1="63.3" x2="1238.6" y2="63.3" stroke="#a8a8a8" stroke-width="1"/>
<line x1="907.0" y1="27.3" x2="907.0" y2="63.3" stroke="#a8a8a8" stroke-width="1"/>
<line x1="983.5" y1="27.3" x2="983.5" y2="63.3" stroke="#a8a8a8" stroke-width="1"/>
<line x1="1031.5" y1="27.3" x2="1031.5" y2="63.3" stroke="#a8a8a8" stroke-width="1"/>
<line x1="1160.4" y1="27.3" x2="1160.4" y2="63.3" stroke="#a8a8a8" stroke-width="1"/>
<line x1="1238.6" y1="27.3" x2="1238.6" y2="63.3" stroke="#a8a8a8" stroke-width="1"/>
<text x="909.9" y="41.7" font-size="12.3" text-anchor="start" textLength="52.9" lengthAdjust="spacingAndGlyphs" fill="#111" font-weight="bold" stroke="#111" stroke-width="0.50" >Edifiacion</text>
<text x="909.9" y="58.0" font-size="12.3" text-anchor="start" textLength="38.8" lengthAdjust="spacingAndGlyphs" fill="#111" font-weight="bold" stroke="#111" stroke-width="0.50" >auxiliar</text>
<text x="986.5" y="41.7" font-size="12.3" text-anchor="start" textLength="35.5" lengthAdjust="spacingAndGlyphs" fill="#111" font-weight="bold" stroke="#111" stroke-width="0.50" >Nivel 1</text>
<text x="1033.9" y="41.7" font-size="12.3" text-anchor="start" textLength="42.4" lengthAdjust="spacingAndGlyphs" fill="#111" font-weight="bold" stroke="#111" stroke-width="0.50" >Trastero</text>
<text x="1199.5" y="41.7" font-size="12.3" text-anchor="middle" textLength="41.8" lengthAdjust="spacingAndGlyphs" fill="#111" font-weight="bold" stroke="#111" stroke-width="0.50" >6.01 m²</text>
<text x="909.9" y="77.4" font-size="12.3" text-anchor="start" textLength="96.1" lengthAdjust="spacingAndGlyphs" fill="#111" font-weight="bold" stroke="#111" stroke-width="0.50" >Edifiacion auxiliar</text>
<text x="1199.5" y="77.4" font-size="12.3" text-anchor="middle" textLength="41.8" lengthAdjust="spacingAndGlyphs" fill="#111" font-weight="bold" stroke="#111" stroke-width="0.50" >6.01 m²</text>
<line x1="907.0" y1="82.5" x2="1238.6" y2="82.5" stroke="#a8a8a8" stroke-width="1"/>
<text x="909.9" y="97.0" font-size="12.3" text-anchor="start" textLength="45.3" lengthAdjust="spacingAndGlyphs" fill="#111" font-weight="bold" stroke="#111" stroke-width="0.50" >Vivienda</text>
<text x="986.5" y="97.0" font-size="12.3" text-anchor="start" textLength="35.5" lengthAdjust="spacingAndGlyphs" fill="#111" font-weight="bold" stroke="#111" stroke-width="0.50" >Nivel 1</text>
<text x="1033.9" y="97.0" font-size="12.3" text-anchor="start" textLength="88.6" lengthAdjust="spacingAndGlyphs" fill="#111" font-weight="bold" stroke="#111" stroke-width="0.50" >Salon - Comedor</text>
<text x="1199.5" y="97.0" font-size="12.3" text-anchor="middle" textLength="48.2" lengthAdjust="spacingAndGlyphs" fill="#111" font-weight="bold" stroke="#111" stroke-width="0.50" >35.23 m²</text>
<line x1="907.0" y1="101.9" x2="1238.6" y2="101.9" stroke="#a8a8a8" stroke-width="1"/>
<text x="909.9" y="116.4" font-size="12.3" text-anchor="start" textLength="45.3" lengthAdjust="spacingAndGlyphs" fill="#111" font-weight="bold" stroke="#111" stroke-width="0.50" >Vivienda</text>
<text x="986.5" y="116.4" font-size="12.3" text-anchor="start" textLength="35.5" lengthAdjust="spacingAndGlyphs" fill="#111" font-weight="bold" stroke="#111" stroke-width="0.50" >Nivel 1</text>
<text x="1033.9" y="116.4" font-size="12.3" text-anchor="start" textLength="36.9" lengthAdjust="spacingAndGlyphs" fill="#111" font-weight="bold" stroke="#111" stroke-width="0.50" >Cocina</text>
<text x="1199.5" y="116.4" font-size="12.3" text-anchor="middle" textLength="48.2" lengthAdjust="spacingAndGlyphs" fill="#111" font-weight="bold" stroke="#111" stroke-width="0.50" >13.77 m²</text>
<line x1="907.0" y1="121.3" x2="1238.6" y2="121.3" stroke="#a8a8a8" stroke-width="1"/>
<text x="909.9" y="135.8" font-size="12.3" text-anchor="start" textLength="45.3" lengthAdjust="spacingAndGlyphs" fill="#111" font-weight="bold" stroke="#111" stroke-width="0.50" >Vivienda</text>
<text x="986.5" y="135.8" font-size="12.3" text-anchor="start" textLength="35.5" lengthAdjust="spacingAndGlyphs" fill="#111" font-weight="bold" stroke="#111" stroke-width="0.50" >Nivel 1</text>
<text x="1033.9" y="135.8" font-size="12.3" text-anchor="start" textLength="51.0" lengthAdjust="spacingAndGlyphs" fill="#111" font-weight="bold" stroke="#111" stroke-width="0.50" >Recibidor</text>
<text x="1199.5" y="135.8" font-size="12.3" text-anchor="middle" textLength="41.5" lengthAdjust="spacingAndGlyphs" fill="#111" font-weight="bold" stroke="#111" stroke-width="0.50" >5.00 m²</text>
<line x1="907.0" y1="140.7" x2="1238.6" y2="140.7" stroke="#a8a8a8" stroke-width="1"/>
<text x="909.9" y="155.2" font-size="12.3" text-anchor="start" textLength="45.3" lengthAdjust="spacingAndGlyphs" fill="#111" font-weight="bold" stroke="#111" stroke-width="0.50" >Vivienda</text>
<text x="986.5" y="155.2" font-size="12.3" text-anchor="start" textLength="35.5" lengthAdjust="spacingAndGlyphs" fill="#111" font-weight="bold" stroke="#111" stroke-width="0.50" >Nivel 1</text>
<text x="1033.9" y="155.2" font-size="12.3" text-anchor="start" textLength="62.7" lengthAdjust="spacingAndGlyphs" fill="#111" font-weight="bold" stroke="#111" stroke-width="0.50" >Distribuidor</text>
<text x="1199.5" y="155.2" font-size="12.3" text-anchor="middle" textLength="47.6" lengthAdjust="spacingAndGlyphs" fill="#111" font-weight="bold" stroke="#111" stroke-width="0.50" >11.93 m²</text>
<line x1="907.0" y1="160.1" x2="1238.6" y2="160.1" stroke="#a8a8a8" stroke-width="1"/>
<text x="909.9" y="174.6" font-size="12.3" text-anchor="start" textLength="45.3" lengthAdjust="spacingAndGlyphs" fill="#111" font-weight="bold" stroke="#111" stroke-width="0.50" >Vivienda</text>
<text x="986.5" y="174.6" font-size="12.3" text-anchor="start" textLength="35.5" lengthAdjust="spacingAndGlyphs" fill="#111" font-weight="bold" stroke="#111" stroke-width="0.50" >Nivel 1</text>
<text x="1033.9" y="174.6" font-size="12.3" text-anchor="start" textLength="42.4" lengthAdjust="spacingAndGlyphs" fill="#111" font-weight="bold" stroke="#111" stroke-width="0.50" >Armario</text>
<text x="1199.5" y="174.6" font-size="12.3" text-anchor="middle" textLength="41.5" lengthAdjust="spacingAndGlyphs" fill="#111" font-weight="bold" stroke="#111" stroke-width="0.50" >1.93 m²</text>
<line x1="907.0" y1="179.4" x2="1238.6" y2="179.4" stroke="#a8a8a8" stroke-width="1"/>
<text x="909.9" y="193.9" font-size="12.3" text-anchor="start" textLength="45.3" lengthAdjust="spacingAndGlyphs" fill="#111" font-weight="bold" stroke="#111" stroke-width="0.50" >Vivienda</text>
<text x="986.5" y="193.9" font-size="12.3" text-anchor="start" textLength="35.5" lengthAdjust="spacingAndGlyphs" fill="#111" font-weight="bold" stroke="#111" stroke-width="0.50" >Nivel 1</text>
<text x="1033.9" y="193.9" font-size="12.3" text-anchor="start" textLength="65.8" lengthAdjust="spacingAndGlyphs" fill="#111" font-weight="bold" stroke="#111" stroke-width="0.50" >Dormitorio 2</text>
<text x="1199.5" y="193.9" font-size="12.3" text-anchor="middle" textLength="48.2" lengthAdjust="spacingAndGlyphs" fill="#111" font-weight="bold" stroke="#111" stroke-width="0.50" >13.45 m²</text>
<line x1="907.0" y1="198.8" x2="1238.6" y2="198.8" stroke="#a8a8a8" stroke-width="1"/>
<text x="909.9" y="213.3" font-size="12.3" text-anchor="start" textLength="45.3" lengthAdjust="spacingAndGlyphs" fill="#111" font-weight="bold" stroke="#111" stroke-width="0.50" >Vivienda</text>
<text x="986.5" y="213.3" font-size="12.3" text-anchor="start" textLength="35.5" lengthAdjust="spacingAndGlyphs" fill="#111" font-weight="bold" stroke="#111" stroke-width="0.50" >Nivel 1</text>
<text x="1033.9" y="213.3" font-size="12.3" text-anchor="start" textLength="65.8" lengthAdjust="spacingAndGlyphs" fill="#111" font-weight="bold" stroke="#111" stroke-width="0.50" >Dormitorio 3</text>
<text x="1199.5" y="213.3" font-size="12.3" text-anchor="middle" textLength="48.2" lengthAdjust="spacingAndGlyphs" fill="#111" font-weight="bold" stroke="#111" stroke-width="0.50" >14.32 m²</text>
<line x1="907.0" y1="218.2" x2="1238.6" y2="218.2" stroke="#a8a8a8" stroke-width="1"/>
<text x="909.9" y="232.7" font-size="12.3" text-anchor="start" textLength="45.3" lengthAdjust="spacingAndGlyphs" fill="#111" font-weight="bold" stroke="#111" stroke-width="0.50" >Vivienda</text>
<text x="986.5" y="232.7" font-size="12.3" text-anchor="start" textLength="35.5" lengthAdjust="spacingAndGlyphs" fill="#111" font-weight="bold" stroke="#111" stroke-width="0.50" >Nivel 1</text>
<text x="1033.9" y="232.7" font-size="12.3" text-anchor="start" textLength="65.8" lengthAdjust="spacingAndGlyphs" fill="#111" font-weight="bold" stroke="#111" stroke-width="0.50" >Dormitorio 4</text>
<text x="1199.5" y="232.7" font-size="12.3" text-anchor="middle" textLength="48.2" lengthAdjust="spacingAndGlyphs" fill="#111" font-weight="bold" stroke="#111" stroke-width="0.50" >14.10 m²</text>
<line x1="907.0" y1="237.6" x2="1238.6" y2="237.6" stroke="#a8a8a8" stroke-width="1"/>
<text x="909.9" y="252.1" font-size="12.3" text-anchor="start" textLength="45.3" lengthAdjust="spacingAndGlyphs" fill="#111" font-weight="bold" stroke="#111" stroke-width="0.50" >Vivienda</text>
<text x="986.5" y="252.1" font-size="12.3" text-anchor="start" textLength="35.5" lengthAdjust="spacingAndGlyphs" fill="#111" font-weight="bold" stroke="#111" stroke-width="0.50" >Nivel 1</text>
<text x="1033.9" y="252.1" font-size="12.3" text-anchor="start" textLength="36.9" lengthAdjust="spacingAndGlyphs" fill="#111" font-weight="bold" stroke="#111" stroke-width="0.50" >Baño 2</text>
<text x="1199.5" y="252.1" font-size="12.3" text-anchor="middle" textLength="41.5" lengthAdjust="spacingAndGlyphs" fill="#111" font-weight="bold" stroke="#111" stroke-width="0.50" >4.43 m²</text>
<line x1="907.0" y1="257.0" x2="1238.6" y2="257.0" stroke="#a8a8a8" stroke-width="1"/>
<text x="909.9" y="271.5" font-size="12.3" text-anchor="start" textLength="45.3" lengthAdjust="spacingAndGlyphs" fill="#111" font-weight="bold" stroke="#111" stroke-width="0.50" >Vivienda</text>
<text x="986.5" y="271.5" font-size="12.3" text-anchor="start" textLength="35.5" lengthAdjust="spacingAndGlyphs" fill="#111" font-weight="bold" stroke="#111" stroke-width="0.50" >Nivel 1</text>
<text x="1033.9" y="271.5" font-size="12.3" text-anchor="start" textLength="27.1" lengthAdjust="spacingAndGlyphs" fill="#111" font-weight="bold" stroke="#111" stroke-width="0.50" >Aseo</text>
<text x="1199.5" y="271.5" font-size="12.3" text-anchor="middle" textLength="41.5" lengthAdjust="spacingAndGlyphs" fill="#111" font-weight="bold" stroke="#111" stroke-width="0.50" >3.27 m²</text>
<line x1="907.0" y1="276.4" x2="1238.6" y2="276.4" stroke="#a8a8a8" stroke-width="1"/>
<text x="909.9" y="290.9" font-size="12.3" text-anchor="start" textLength="45.3" lengthAdjust="spacingAndGlyphs" fill="#111" font-weight="bold" stroke="#111" stroke-width="0.50" >Vivienda</text>
<text x="986.5" y="290.9" font-size="12.3" text-anchor="start" textLength="35.5" lengthAdjust="spacingAndGlyphs" fill="#111" font-weight="bold" stroke="#111" stroke-width="0.50" >Nivel 1</text>
<text x="1033.9" y="290.9" font-size="12.3" text-anchor="start" textLength="37.5" lengthAdjust="spacingAndGlyphs" fill="#111" font-weight="bold" stroke="#111" stroke-width="0.50" >Galeria</text>
<text x="1199.5" y="290.9" font-size="12.3" text-anchor="middle" textLength="41.5" lengthAdjust="spacingAndGlyphs" fill="#111" font-weight="bold" stroke="#111" stroke-width="0.50" >4.93 m²</text>
<line x1="907.0" y1="295.8" x2="1238.6" y2="295.8" stroke="#a8a8a8" stroke-width="1"/>
<text x="909.9" y="310.3" font-size="12.3" text-anchor="start" textLength="45.3" lengthAdjust="spacingAndGlyphs" fill="#111" font-weight="bold" stroke="#111" stroke-width="0.50" >Vivienda</text>
<text x="986.5" y="310.3" font-size="12.3" text-anchor="start" textLength="35.5" lengthAdjust="spacingAndGlyphs" fill="#111" font-weight="bold" stroke="#111" stroke-width="0.50" >Nivel 1</text>
<text x="1033.9" y="310.3" font-size="12.3" text-anchor="start" textLength="79.4" lengthAdjust="spacingAndGlyphs" fill="#111" font-weight="bold" stroke="#111" stroke-width="0.50" >Pergola (100%)</text>
<text x="1199.5" y="310.3" font-size="12.3" text-anchor="middle" textLength="48.2" lengthAdjust="spacingAndGlyphs" fill="#111" font-weight="bold" stroke="#111" stroke-width="0.50" >27.68 m²</text>
<line x1="907.0" y1="315.2" x2="1238.6" y2="315.2" stroke="#a8a8a8" stroke-width="1"/>
<text x="909.9" y="329.7" font-size="12.3" text-anchor="start" textLength="45.3" lengthAdjust="spacingAndGlyphs" fill="#111" font-weight="bold" stroke="#111" stroke-width="0.50" >Vivienda</text>
<text x="986.5" y="329.7" font-size="12.3" text-anchor="start" textLength="35.5" lengthAdjust="spacingAndGlyphs" fill="#111" font-weight="bold" stroke="#111" stroke-width="0.50" >Nivel 1</text>
<text x="1033.9" y="329.7" font-size="12.3" text-anchor="start" textLength="118.1" lengthAdjust="spacingAndGlyphs" fill="#111" font-weight="bold" stroke="#111" stroke-width="0.50" >Paseo cubierto (100%)</text>
<text x="1199.5" y="329.7" font-size="12.3" text-anchor="middle" textLength="47.6" lengthAdjust="spacingAndGlyphs" fill="#111" font-weight="bold" stroke="#111" stroke-width="0.50" >11.17 m²</text>
<line x1="907.0" y1="334.6" x2="1238.6" y2="334.6" stroke="#a8a8a8" stroke-width="1"/>
<line x1="907.0" y1="82.5" x2="907.0" y2="334.6" stroke="#a8a8a8" stroke-width="1"/>
<line x1="983.5" y1="82.5" x2="983.5" y2="334.6" stroke="#a8a8a8" stroke-width="1"/>
<line x1="1031.5" y1="82.5" x2="1031.5" y2="334.6" stroke="#a8a8a8" stroke-width="1"/>
<line x1="1160.4" y1="82.5" x2="1160.4" y2="334.6" stroke="#a8a8a8" stroke-width="1"/>
<line x1="1238.6" y1="82.5" x2="1238.6" y2="334.6" stroke="#a8a8a8" stroke-width="1"/>
<text x="909.9" y="349.1" font-size="12.3" text-anchor="start" textLength="45.3" lengthAdjust="spacingAndGlyphs" fill="#111" font-weight="bold" stroke="#111" stroke-width="0.50" >Vivienda</text>
<text x="1199.5" y="349.1" font-size="12.3" text-anchor="middle" textLength="54.9" lengthAdjust="spacingAndGlyphs" fill="#111" font-weight="bold" stroke="#111" stroke-width="0.50" >161.21 m²</text>
<text x="909.9" y="368.5" font-size="12.3" text-anchor="start" textLength="35.5" lengthAdjust="spacingAndGlyphs" fill="#111" font-weight="bold" stroke="#111" stroke-width="0.50" >Nivel 1</text>
<text x="1199.5" y="368.5" font-size="12.3" text-anchor="middle" textLength="54.9" lengthAdjust="spacingAndGlyphs" fill="#111" font-weight="bold" stroke="#111" stroke-width="0.50" >167.22 m²</text>
<line x1="907.0" y1="373.4" x2="1238.6" y2="373.4" stroke="#a8a8a8" stroke-width="1"/>
<text x="909.9" y="387.9" font-size="12.3" text-anchor="start" textLength="45.3" lengthAdjust="spacingAndGlyphs" fill="#111" font-weight="bold" stroke="#111" stroke-width="0.50" >Vivienda</text>
<text x="986.5" y="387.9" font-size="12.3" text-anchor="start" textLength="35.5" lengthAdjust="spacingAndGlyphs" fill="#111" font-weight="bold" stroke="#111" stroke-width="0.50" >Nivel 2</text>
<text x="1033.9" y="387.9" font-size="12.3" text-anchor="start" textLength="61.5" lengthAdjust="spacingAndGlyphs" fill="#111" font-weight="bold" stroke="#111" stroke-width="0.50" >Descansillo</text>
<text x="1199.5" y="387.9" font-size="12.3" text-anchor="middle" textLength="41.5" lengthAdjust="spacingAndGlyphs" fill="#111" font-weight="bold" stroke="#111" stroke-width="0.50" >2.17 m²</text>
<line x1="907.0" y1="392.7" x2="1238.6" y2="392.7" stroke="#a8a8a8" stroke-width="1"/>
<text x="909.9" y="407.2" font-size="12.3" text-anchor="start" textLength="45.3" lengthAdjust="spacingAndGlyphs" fill="#111" font-weight="bold" stroke="#111" stroke-width="0.50" >Vivienda</text>
<text x="986.5" y="407.2" font-size="12.3" text-anchor="start" textLength="35.5" lengthAdjust="spacingAndGlyphs" fill="#111" font-weight="bold" stroke="#111" stroke-width="0.50" >Nivel 2</text>
<text x="1033.9" y="407.2" font-size="12.3" text-anchor="start" textLength="43.7" lengthAdjust="spacingAndGlyphs" fill="#111" font-weight="bold" stroke="#111" stroke-width="0.50" >Vestidor</text>
<text x="1199.5" y="407.2" font-size="12.3" text-anchor="middle" textLength="41.5" lengthAdjust="spacingAndGlyphs" fill="#111" font-weight="bold" stroke="#111" stroke-width="0.50" >7.77 m²</text>
<line x1="907.0" y1="412.1" x2="1238.6" y2="412.1" stroke="#a8a8a8" stroke-width="1"/>
<text x="909.9" y="426.6" font-size="12.3" text-anchor="start" textLength="45.3" lengthAdjust="spacingAndGlyphs" fill="#111" font-weight="bold" stroke="#111" stroke-width="0.50" >Vivienda</text>
<text x="986.5" y="426.6" font-size="12.3" text-anchor="start" textLength="35.5" lengthAdjust="spacingAndGlyphs" fill="#111" font-weight="bold" stroke="#111" stroke-width="0.50" >Nivel 2</text>
<text x="1033.9" y="426.6" font-size="12.3" text-anchor="start" textLength="36.9" lengthAdjust="spacingAndGlyphs" fill="#111" font-weight="bold" stroke="#111" stroke-width="0.50" >Baño 1</text>
<text x="1199.5" y="426.6" font-size="12.3" text-anchor="middle" textLength="41.5" lengthAdjust="spacingAndGlyphs" fill="#111" font-weight="bold" stroke="#111" stroke-width="0.50" >7.93 m²</text>
<line x1="907.0" y1="431.5" x2="1238.6" y2="431.5" stroke="#a8a8a8" stroke-width="1"/>
<text x="909.9" y="446.0" font-size="12.3" text-anchor="start" textLength="45.3" lengthAdjust="spacingAndGlyphs" fill="#111" font-weight="bold" stroke="#111" stroke-width="0.50" >Vivienda</text>
<text x="986.5" y="446.0" font-size="12.3" text-anchor="start" textLength="35.5" lengthAdjust="spacingAndGlyphs" fill="#111" font-weight="bold" stroke="#111" stroke-width="0.50" >Nivel 2</text>
<text x="1033.9" y="446.0" font-size="12.3" text-anchor="start" textLength="65.8" lengthAdjust="spacingAndGlyphs" fill="#111" font-weight="bold" stroke="#111" stroke-width="0.50" >Dormitorio 1</text>
<text x="1199.5" y="446.0" font-size="12.3" text-anchor="middle" textLength="48.2" lengthAdjust="spacingAndGlyphs" fill="#111" font-weight="bold" stroke="#111" stroke-width="0.50" >20.21 m²</text>
<line x1="907.0" y1="450.9" x2="1238.6" y2="450.9" stroke="#a8a8a8" stroke-width="1"/>
<text x="909.9" y="465.4" font-size="12.3" text-anchor="start" textLength="45.3" lengthAdjust="spacingAndGlyphs" fill="#111" font-weight="bold" stroke="#111" stroke-width="0.50" >Vivienda</text>
<text x="986.5" y="465.4" font-size="12.3" text-anchor="start" textLength="35.5" lengthAdjust="spacingAndGlyphs" fill="#111" font-weight="bold" stroke="#111" stroke-width="0.50" >Nivel 2</text>
<text x="1033.9" y="465.4" font-size="12.3" text-anchor="start" textLength="45.5" lengthAdjust="spacingAndGlyphs" fill="#111" font-weight="bold" stroke="#111" stroke-width="0.50" >Escalera</text>
<text x="1199.5" y="465.4" font-size="12.3" text-anchor="middle" textLength="41.5" lengthAdjust="spacingAndGlyphs" fill="#111" font-weight="bold" stroke="#111" stroke-width="0.50" >5.15 m²</text>
<line x1="907.0" y1="470.3" x2="1238.6" y2="470.3" stroke="#a8a8a8" stroke-width="1"/>
<line x1="907.0" y1="373.4" x2="907.0" y2="470.3" stroke="#a8a8a8" stroke-width="1"/>
<line x1="983.5" y1="373.4" x2="983.5" y2="470.3" stroke="#a8a8a8" stroke-width="1"/>
<line x1="1031.5" y1="373.4" x2="1031.5" y2="470.3" stroke="#a8a8a8" stroke-width="1"/>
<line x1="1160.4" y1="373.4" x2="1160.4" y2="470.3" stroke="#a8a8a8" stroke-width="1"/>
<line x1="1238.6" y1="373.4" x2="1238.6" y2="470.3" stroke="#a8a8a8" stroke-width="1"/>
<text x="909.9" y="484.8" font-size="12.3" text-anchor="start" textLength="45.3" lengthAdjust="spacingAndGlyphs" fill="#111" font-weight="bold" stroke="#111" stroke-width="0.50" >Vivienda</text>
<text x="1199.5" y="484.8" font-size="12.3" text-anchor="middle" textLength="48.2" lengthAdjust="spacingAndGlyphs" fill="#111" font-weight="bold" stroke="#111" stroke-width="0.50" >43.23 m²</text>
<text x="909.9" y="504.2" font-size="12.3" text-anchor="start" textLength="35.5" lengthAdjust="spacingAndGlyphs" fill="#111" font-weight="bold" stroke="#111" stroke-width="0.50" >Nivel 2</text>
<text x="1199.5" y="504.2" font-size="12.3" text-anchor="middle" textLength="48.2" lengthAdjust="spacingAndGlyphs" fill="#111" font-weight="bold" stroke="#111" stroke-width="0.50" >43.23 m²</text>
<text x="910.0" y="523.6" font-size="12.3" text-anchor="start" textLength="120.0" lengthAdjust="spacingAndGlyphs" fill="#111" font-weight="bold" stroke="#111" stroke-width="0.50" >TOTAL SUPERFICIE UTIL</text>
<text x="1199.5" y="523.6" font-size="12.3" text-anchor="middle" textLength="54.9" lengthAdjust="spacingAndGlyphs" fill="#111" font-weight="bold" stroke="#111" stroke-width="0.50" >210.45 m²</text>
<rect x="907.0" y="558.5" width="326.0" height="51.6" fill="none" stroke="#a8a8a8" stroke-width="1" />
<line x1="907.0" y1="591.3" x2="1233.0" y2="591.3" stroke="#a8a8a8" stroke-width="1"/>
<line x1="1155.5" y1="591.3" x2="1155.5" y2="610.1" stroke="#a8a8a8" stroke-width="1"/>
<text x="1070.0" y="580.6" font-size="15" text-anchor="middle" textLength="140.8" lengthAdjust="spacingAndGlyphs" fill="#111" font-weight="bold" stroke="#111" stroke-width="0.50" >Superficies construidas</text>
<text x="1031.0" y="605.1" font-size="12.3" text-anchor="middle" textLength="41.8" lengthAdjust="spacingAndGlyphs" fill="#111" font-weight="bold" stroke="#111" stroke-width="0.50" >Nombre</text>
<text x="1194.0" y="605.1" font-size="12.3" text-anchor="middle" textLength="24.6" lengthAdjust="spacingAndGlyphs" fill="#111" font-weight="bold" stroke="#111" stroke-width="0.50" >Área</text>
<line x1="907.0" y1="629.7" x2="1233.0" y2="629.7" stroke="#a8a8a8" stroke-width="1"/>
<text x="909.9" y="644.2" font-size="12.3" text-anchor="start" textLength="59.7" lengthAdjust="spacingAndGlyphs" fill="#111" font-weight="bold" stroke="#111" stroke-width="0.50" >Planta Baja</text>
<text x="1194.0" y="644.2" font-size="12.3" text-anchor="middle" textLength="54.9" lengthAdjust="spacingAndGlyphs" fill="#111" font-weight="bold" stroke="#111" stroke-width="0.50" >147.35 m²</text>
<line x1="907.0" y1="649.1" x2="1233.0" y2="649.1" stroke="#a8a8a8" stroke-width="1"/>
<text x="909.9" y="663.6" font-size="12.3" text-anchor="start" textLength="79.4" lengthAdjust="spacingAndGlyphs" fill="#111" font-weight="bold" stroke="#111" stroke-width="0.50" >Pergola (100%)</text>
<text x="1194.0" y="663.6" font-size="12.3" text-anchor="middle" textLength="48.2" lengthAdjust="spacingAndGlyphs" fill="#111" font-weight="bold" stroke="#111" stroke-width="0.50" >27.30 m²</text>
<line x1="907.0" y1="668.5" x2="1233.0" y2="668.5" stroke="#a8a8a8" stroke-width="1"/>
<text x="909.9" y="683.0" font-size="12.3" text-anchor="start" textLength="118.1" lengthAdjust="spacingAndGlyphs" fill="#111" font-weight="bold" stroke="#111" stroke-width="0.50" >Paseo cubierto (100%)</text>
<text x="1194.0" y="683.0" font-size="12.3" text-anchor="middle" textLength="47.6" lengthAdjust="spacingAndGlyphs" fill="#111" font-weight="bold" stroke="#111" stroke-width="0.50" >11.86 m²</text>
<line x1="907.0" y1="687.9" x2="1233.0" y2="687.9" stroke="#a8a8a8" stroke-width="1"/>
<text x="909.9" y="702.4" font-size="12.3" text-anchor="start" textLength="77.5" lengthAdjust="spacingAndGlyphs" fill="#111" font-weight="bold" stroke="#111" stroke-width="0.50" >Planta Primera</text>
<text x="1194.0" y="702.4" font-size="12.3" text-anchor="middle" textLength="48.2" lengthAdjust="spacingAndGlyphs" fill="#111" font-weight="bold" stroke="#111" stroke-width="0.50" >53.08 m²</text>
<line x1="907.0" y1="707.3" x2="1233.0" y2="707.3" stroke="#a8a8a8" stroke-width="1"/>
<text x="909.9" y="721.8" font-size="12.3" text-anchor="start" textLength="43.7" lengthAdjust="spacingAndGlyphs" fill="#111" font-weight="bold" stroke="#111" stroke-width="0.50" >Trastero</text>
<text x="1194.0" y="721.8" font-size="12.3" text-anchor="middle" textLength="41.5" lengthAdjust="spacingAndGlyphs" fill="#111" font-weight="bold" stroke="#111" stroke-width="0.50" >8.17 m²</text>
<line x1="907.0" y1="726.7" x2="1233.0" y2="726.7" stroke="#a8a8a8" stroke-width="1"/>
<text x="909.9" y="741.2" font-size="12.3" text-anchor="start" textLength="39.4" lengthAdjust="spacingAndGlyphs" fill="#111" font-weight="bold" stroke="#111" stroke-width="0.50" >Acceso</text>
<text x="1194.0" y="741.2" font-size="12.3" text-anchor="middle" textLength="41.5" lengthAdjust="spacingAndGlyphs" fill="#111" font-weight="bold" stroke="#111" stroke-width="0.50" >1.19 m²</text>
<line x1="907.0" y1="746.0" x2="1233.0" y2="746.0" stroke="#a8a8a8" stroke-width="1"/>
<line x1="907.0" y1="629.7" x2="907.0" y2="746.0" stroke="#a8a8a8" stroke-width="1"/>
<line x1="1155.5" y1="629.7" x2="1155.5" y2="746.0" stroke="#a8a8a8" stroke-width="1"/>
<line x1="1233.0" y1="629.7" x2="1233.0" y2="746.0" stroke="#a8a8a8" stroke-width="1"/>
<text x="909.9" y="760.5" font-size="12.3" text-anchor="start" textLength="129.7" lengthAdjust="spacingAndGlyphs" fill="#111" font-weight="bold" stroke="#111" stroke-width="0.50" >TOTAL SUP. CONSTRUIDA</text>
<text x="1194.0" y="760.5" font-size="12.3" text-anchor="middle" textLength="54.9" lengthAdjust="spacingAndGlyphs" fill="#111" font-weight="bold" stroke="#111" stroke-width="0.50" >248.95 m²</text>
<line x1="1289.3" y1="0.0" x2="1289.3" y2="755.0" stroke="#8a8a8a" stroke-width="1.4"/>
<line x1="0.6" y1="0.0" x2="0.6" y2="755.0" stroke="#a4a4a4" stroke-width="1.2"/>
</svg>
</body></html>
